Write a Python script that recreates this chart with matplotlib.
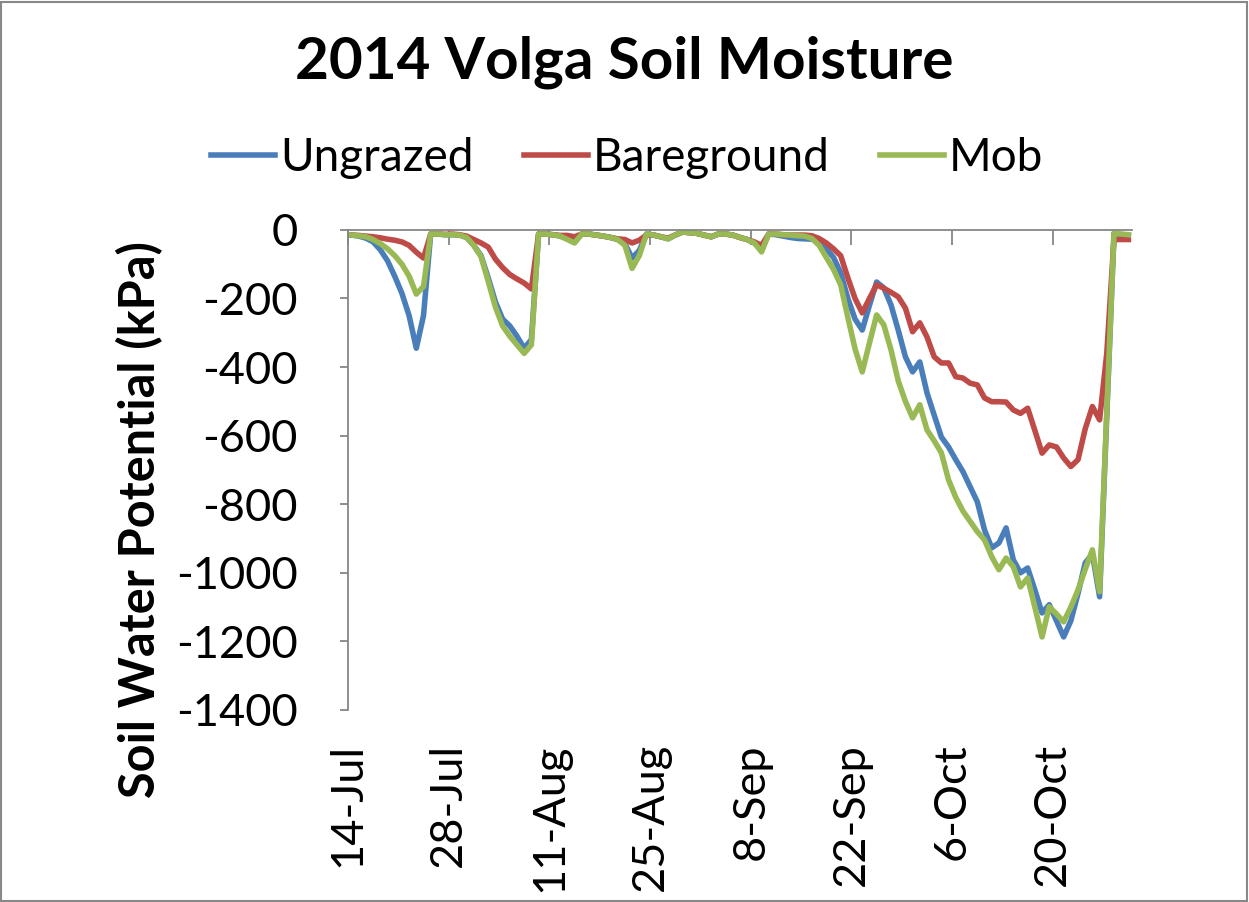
import datetime as dt
import matplotlib
matplotlib.use("Agg")
import matplotlib.pyplot as plt
from matplotlib.patches import Rectangle

# daily readings, starting 14-Jul-2014 (kPa)
start = dt.datetime(2014, 7, 14)
ungrazed = [
    -15, -18, -24, -35, -58, -90, -135, -185, -250, -345,
    -250, -12, -12, -14, -14, -15, -22, -45, -75, -140,
    -210, -260, -280, -310, -345, -320, -12, -12, -14, -18,
    -25, -35, -12, -12, -15, -18, -22, -28, -40, -82,
    -60, -12, -15, -20, -26, -15, -6, -8, -10, -15,
    -20, -12, -12, -15, -22, -28, -38, -55, -12, -14,
    -18, -22, -25, -26, -27, -35, -55, -80, -125, -200,
    -260, -292, -220, -152, -169, -219, -292, -370, -414, -385,
    -475, -540, -604, -633, -670, -705, -749, -793, -875, -927,
    -913, -869, -962, -1000, -986, -1050, -1117, -1093, -1140, -1187,
    -1140, -1060, -971, -945, -1070, -540, -10, -14, -16,
]
bareground = [
    -15, -16, -18, -20, -23, -27, -30, -35, -45, -65,
    -82, -12, -12, -13, -12, -14, -18, -28, -38, -50,
    -85, -110, -130, -143, -155, -172, -12, -12, -14, -16,
    -16, -20, -12, -12, -15, -18, -22, -26, -28, -38,
    -30, -15, -15, -20, -24, -15, -6, -8, -10, -15,
    -20, -12, -12, -15, -22, -28, -35, -45, -12, -12,
    -14, -15, -15, -15, -17, -25, -38, -55, -75, -140,
    -200, -242, -200, -160, -170, -182, -195, -228, -297, -271,
    -312, -370, -388, -388, -428, -432, -447, -452, -490, -501,
    -501, -502, -525, -535, -520, -585, -651, -627, -633, -665,
    -690, -670, -580, -515, -554, -359, -28, -28, -28,
]
mob = [
    -15, -17, -20, -28, -40, -55, -75, -100, -135, -187,
    -165, -12, -12, -14, -14, -15, -22, -45, -78, -150,
    -225, -280, -310, -335, -360, -335, -12, -12, -14, -18,
    -28, -38, -12, -12, -15, -18, -22, -28, -45, -112,
    -75, -12, -15, -20, -26, -15, -6, -8, -10, -15,
    -20, -12, -12, -15, -22, -28, -38, -64, -12, -12,
    -14, -15, -17, -18, -25, -45, -80, -115, -160, -255,
    -347, -414, -330, -248, -277, -350, -440, -500, -548, -510,
    -583, -615, -650, -729, -780, -820, -850, -880, -904, -953,
    -991, -957, -982, -1041, -1015, -1100, -1187, -1099, -1120, -1143,
    -1100, -1050, -990, -933, -1055, -530, -10, -12, -14,
]
series_names = ["Ungrazed", "Bareground", "Mob"]
series_colors = ["#4A7EBB", "#BE4B48", "#98B954"]
tick_dates = [dt.datetime(2014, 7, 14) + dt.timedelta(days=14 * i) for i in range(8)]
tick_labels = ["14-Jul", "28-Jul", "11-Aug", "25-Aug", "8-Sep", "22-Sep", "6-Oct", "20-Oct"]
y_ticks = [0, -200, -400, -600, -800, -1000, -1200, -1400]

plt.rcParams["font.family"] = ["Lato", "DejaVu Sans"]

fig = plt.figure(figsize=(12.49, 9.02), dpi=100)
ax = fig.add_axes([0.2786, 0.2129, 0.6277, 0.5322])

# points sit in the middle of each day (Excel "between tick marks")
days = [start + dt.timedelta(days=i, hours=12) for i in range(len(ungrazed))]
for vals, name, col in zip([ungrazed, bareground, mob], series_names, series_colors):
    ax.plot(days, vals, color=col, lw=4, label=name, solid_joinstyle="round")

ax.set_xlim(start, start + dt.timedelta(days=len(ungrazed)))
ax.set_ylim(-1400, 0)
ax.set_yticks(y_ticks)
ax.set_yticklabels([str(v) for v in y_ticks])
ax.set_xticks(tick_dates)
ax.set_xticklabels(tick_labels, rotation=90)

axis_grey = "#868686"
for s in ["right", "bottom"]:
    ax.spines[s].set_visible(False)
for s in ["left", "top"]:
    ax.spines[s].set_color(axis_grey)
    ax.spines[s].set_linewidth(1.3)

ax.tick_params(axis="x", top=True, bottom=False, direction="in", length=11,
               width=1.3, color=axis_grey, labelbottom=True, labeltop=False,
               labelsize=32.5, pad=24)
ax.tick_params(axis="y", direction="out", length=6, width=1.3, color=axis_grey,
               labelsize=32.5, pad=30)

fig.text(0.112, 0.4235, "Soil Water Potential (kPa)", rotation=90, fontsize=35,
         fontweight="bold", ha="center", va="center")
fig.text(0.5, 0.931, "2014 Volga Soil Moisture", fontsize=42, fontweight="bold",
         ha="center", va="center")

fig.legend(loc="center", bbox_to_anchor=(0.502, 0.825), ncol=3, frameon=False,
           fontsize=33, handlelength=1.4, handletextpad=0.1, columnspacing=1.1)

# chart area border
fig.patches.append(Rectangle((0.001, 0.001), 0.997, 0.997, transform=fig.transFigure,
                             fill=False, edgecolor="#888888", lw=1.5))

fig.savefig("out.png", dpi=100)
